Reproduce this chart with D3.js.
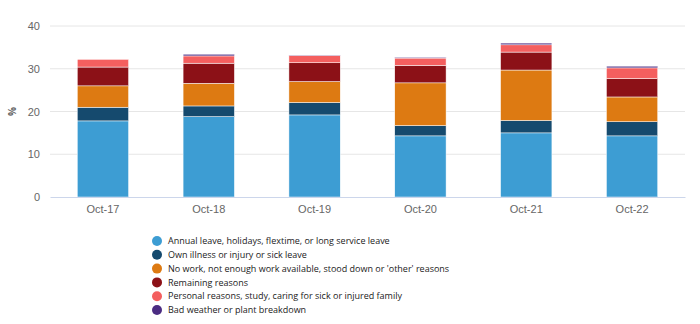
<!DOCTYPE html>
<html>
<head>
<meta charset="utf-8">
<script src="https://cdn.jsdelivr.net/npm/d3@7"></script>
<style>
  html, body { margin: 0; padding: 0; background: #fff; }
  svg { display: block; font-family: "Open Sans", "Noto Sans", sans-serif; }
</style>
</head>
<body>
<div id="chart"></div>
<script>
// Categories and series (percent)
var categories = ['Oct-17', 'Oct-18', 'Oct-19', 'Oct-20', 'Oct-21', 'Oct-22'];
var seriesNames = [
  'Annual leave, holidays, flextime, or long service leave',
  'Own illness or injury or sick leave',
  "No work, not enough work available, stood down or 'other' reasons",
  'Remaining reasons',
  'Personal reasons, study, caring for sick or injured family',
  'Bad weather or plant breakdown'
];
var annualLeave = [17.8, 18.8, 19.2, 14.3, 15.0, 14.3];
var ownIllness  = [3.2, 2.5, 2.9, 2.4, 2.9, 3.3];
var noWork      = [5.0, 5.3, 4.9, 10.0, 11.8, 5.8];
var remaining   = [4.4, 4.7, 4.4, 4.1, 4.2, 4.3];
var personal    = [1.8, 1.7, 1.7, 1.7, 1.7, 2.5];
var badWeather  = [0.0, 0.4, 0.1, 0.2, 0.4, 0.4];
var yTicks = [0, 10, 20, 30, 40];

var colors = ['#3d9dd3', '#154a6e', '#dd7a12', '#8c1117', '#f45f5f', '#4b2c82'];
var seriesValues = [annualLeave, ownIllness, noWork, remaining, personal, badWeather];

var W = 700, H = 324;
var margin = { left: 50, right: 15, top: 26, bottom: 127 };

var rows = categories.map(function (c, i) {
  var r = { cat: c };
  seriesNames.forEach(function (n, k) { r[n] = seriesValues[k][i]; });
  return r;
});

var svg = d3.select('#chart').append('svg')
  .attr('width', W).attr('height', H);

var x = d3.scaleBand().domain(categories)
  .range([margin.left, W - margin.right]).paddingInner(0.515).paddingOuter(0.2575);
var y = d3.scaleLinear().domain([0, 40]).range([H - margin.bottom, margin.top]);

// gridlines
svg.append('g').selectAll('line').data(yTicks.slice(1)).join('line')
  .attr('x1', margin.left).attr('x2', W - margin.right)
  .attr('y1', function (d) { return y(d); }).attr('y2', function (d) { return y(d); })
  .attr('stroke', '#e6e6e6').attr('stroke-width', 1);

// y axis labels
var yAxis = svg.append('g')
  .attr('transform', 'translate(' + (margin.left - 10) + ',0)')
  .call(d3.axisLeft(y).tickValues(yTicks).tickSize(0).tickPadding(0));
yAxis.select('.domain').remove();
yAxis.selectAll('text').attr('fill', '#666').style('font-size', '11px');

svg.append('text')
  .attr('transform', 'translate(16,' + y(20) + ') rotate(-90)')
  .attr('text-anchor', 'middle').attr('fill', '#666')
  .style('font-size', '10px').style('font-weight', 'bold').text('%');

// stacked bars
var stack = d3.stack().keys(seriesNames)(rows);
svg.append('g').selectAll('g').data(stack).join('g')
  .attr('fill', function (d, i) { return colors[i]; })
  .selectAll('rect').data(function (d) { return d; }).join('rect')
  .attr('x', function (d) { return x(d.data.cat); })
  .attr('width', x.bandwidth())
  .attr('y', function (d) { return y(d[1]); })
  .attr('height', function (d) { return Math.max(0, y(d[0]) - y(d[1])); })
  .attr('stroke', '#fff').attr('stroke-width', 0.5);

// x axis
var xAxis = svg.append('g')
  .attr('transform', 'translate(0,' + y(0) + ')')
  .call(d3.axisBottom(x).tickSize(0).tickPadding(8));
xAxis.select('.domain').attr('stroke', '#ccd6eb');
xAxis.selectAll('text').attr('fill', '#666').style('font-size', '11px');

// legend
var legend = svg.append('g').attr('transform', 'translate(157,241)');
var item = legend.selectAll('g').data(seriesNames).join('g')
  .attr('transform', function (d, i) { return 'translate(0,' + (i * 13.8) + ')'; });
item.append('circle').attr('r', 5).attr('fill', function (d, i) { return colors[i]; });
item.append('text').attr('x', 11).attr('dy', '0.35em')
  .attr('fill', '#222').style('font-size', '9px').text(function (d) { return d; });
</script>
</body>
</html>
